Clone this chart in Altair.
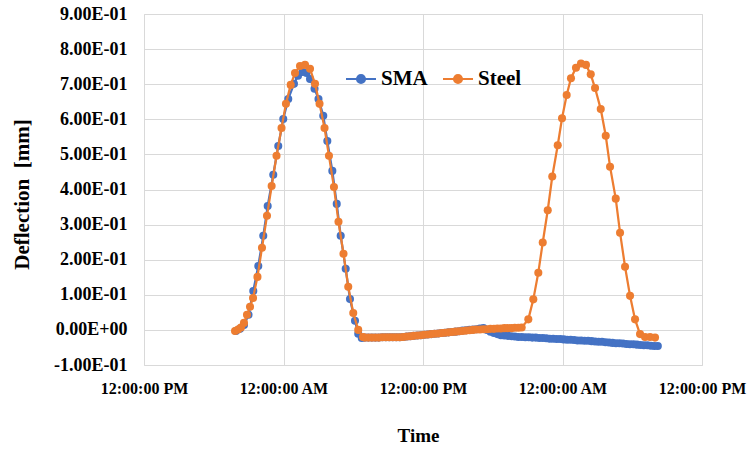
import altair as alt
import pandas as pd

# Time in hours since the first "12:00:00 PM" tick
sma_hours = [7.91, 8.26, 8.60, 8.99, 9.40, 9.83, 10.26, 10.64, 11.12, 11.55, 11.98, 12.41, 12.90, 13.25,
             13.63, 13.98, 14.28, 14.67, 15.01, 15.42, 15.77, 16.20, 16.58, 16.92, 17.35, 17.72, 18.15,
             18.43, 18.73,
             19.0, 19.3, 19.6, 19.9, 20.2, 20.5, 20.8, 21.1, 21.4, 21.7, 22.0, 22.3, 22.6, 22.9, 23.2,
             23.5, 23.8, 24.1, 24.4, 24.7, 25.0, 25.3, 25.6, 25.9, 26.2, 26.5, 26.8, 27.1, 27.4, 27.7,
             28.0, 28.3, 28.6, 28.9, 29.2, 29.5, 29.8, 30.1, 30.4, 30.7, 31.0, 31.3, 31.6, 31.9, 32.2,
             32.5, 32.8, 33.1, 33.4, 33.7, 34.0, 34.3, 34.6, 34.9, 35.2, 35.5, 35.8, 36.1, 36.4, 36.7,
             37.0, 37.3, 37.6, 37.9, 38.2, 38.5, 38.8, 39.1, 39.4, 39.7, 40.0, 40.3, 40.6, 40.9, 41.2,
             41.5, 41.8, 42.1, 42.4, 42.7, 43.0, 43.3, 43.6, 43.9, 44.2]
sma_values = [-0.003, 0.003, 0.014, 0.043, 0.111, 0.182, 0.268, 0.353, 0.442, 0.524, 0.601, 0.658, 0.701,
              0.724, 0.735, 0.732, 0.715, 0.687, 0.658, 0.610, 0.538, 0.453, 0.359, 0.268, 0.174, 0.088,
              0.026, -0.011, -0.023,
              -0.022, -0.022, -0.022, -0.022, -0.022, -0.021, -0.021, -0.021, -0.021, -0.021, -0.021,
              -0.020, -0.019, -0.018, -0.017, -0.016, -0.015, -0.014, -0.013, -0.012, -0.011, -0.010,
              -0.009, -0.008, -0.007, -0.006, -0.005, -0.004, -0.002, -0.001, 0.000, 0.001, 0.002,
              0.004, 0.005, 0.000, -0.005, -0.009, -0.012, -0.015, -0.016, -0.017, -0.018, -0.019,
              -0.020,
              -0.020, -0.021, -0.021, -0.022, -0.022, -0.023, -0.023, -0.024, -0.025, -0.025, -0.026,
              -0.026, -0.027, -0.028, -0.028, -0.029, -0.030, -0.030, -0.031, -0.031, -0.032, -0.033,
              -0.034, -0.034, -0.035, -0.036, -0.037, -0.038, -0.038, -0.039, -0.040, -0.041, -0.041,
              -0.042, -0.043, -0.044, -0.044, -0.045, -0.046, -0.046]

steel_hours = [7.83, 8.09, 8.34, 8.60, 8.86, 9.12, 9.38, 9.76, 10.15, 10.58, 10.98, 11.40, 11.83, 12.21,
               12.62, 12.99, 13.42, 13.85, 14.28, 14.71, 15.10, 15.53, 15.91, 16.34, 16.73, 17.16,
               17.57, 18.00, 18.43, 18.84,
               19.0, 19.3, 19.6, 19.9, 20.2, 20.5, 20.8, 21.1, 21.4, 21.7, 22.0, 22.3, 22.6, 22.9, 23.2,
               23.5, 23.8, 24.1, 24.4, 24.7, 25.0, 25.3, 25.6, 25.9, 26.2, 26.5, 26.8, 27.1, 27.4, 27.7,
               28.0, 28.3, 28.6, 28.9, 29.2, 29.5, 29.8, 30.1, 30.4, 30.7, 31.0, 31.3, 31.6, 31.9, 32.2,
               32.49, 33.06, 33.49, 33.92, 34.30, 34.73, 35.12, 35.59, 35.96, 36.36, 36.73, 37.16,
               37.59, 38.02, 38.43, 38.80, 39.29, 39.72, 40.09, 40.58, 40.95, 41.38, 41.81, 42.24,
               42.67, 43.10, 43.53, 43.96]
steel_values = [-0.003, 0.001, 0.007, 0.020, 0.043, 0.066, 0.091, 0.151, 0.234, 0.325, 0.410, 0.496,
                0.575, 0.644, 0.698, 0.732, 0.752, 0.755, 0.744, 0.701, 0.644, 0.575, 0.496, 0.407,
                0.308, 0.217, 0.123, 0.048, 0.000, -0.020,
                -0.022, -0.022, -0.022, -0.022, -0.022, -0.021, -0.021, -0.021, -0.021, -0.021, -0.021,
                -0.020, -0.019, -0.018, -0.017, -0.016, -0.015, -0.014, -0.013, -0.012, -0.011, -0.010,
                -0.009, -0.008, -0.007, -0.006, -0.005, -0.004, -0.003, -0.002, -0.001, 0.000, 0.001,
                0.001, 0.002, 0.002, 0.003, 0.003, 0.004, 0.004, 0.005, 0.005, 0.005, 0.006, 0.006,
                0.007, 0.030, 0.087, 0.163, 0.249, 0.341, 0.437, 0.526, 0.603, 0.669, 0.717, 0.747,
                0.759, 0.755, 0.728, 0.689, 0.629, 0.553, 0.465, 0.374, 0.277, 0.180, 0.097, 0.030,
                -0.012, -0.020, -0.020, -0.022]

series_names = ["SMA", "Steel"]
series_colors = ["#4472C4", "#ED7D31"]
x_ticks = [0, 12, 24, 36, 48]
y_ticks = [-0.1, 0.0, 0.1, 0.2, 0.3, 0.4, 0.5, 0.6, 0.7, 0.8, 0.9]
y_tick_labels = ["-1.00E-01", "0.00E+00", "1.00E-01", "2.00E-01", "3.00E-01", "4.00E-01",
                 "5.00E-01", "6.00E-01", "7.00E-01", "8.00E-01", "9.00E-01"]

df = pd.concat([
    pd.DataFrame({"t": sma_hours, "v": sma_values, "s": "SMA", "o": range(len(sma_hours))}),
    pd.DataFrame({"t": steel_hours, "v": steel_values, "s": "Steel", "o": range(len(steel_hours))}),
])

FONT = "Liberation Serif"
ylab_expr = "[" + ",".join("'%s'" % l for l in y_tick_labels) + "][round(datum.value*10)+1]"

common_axis = dict(labelFont=FONT, labelFontWeight="bold", labelColor="#000000",
                   titleFont=FONT, titleFontWeight="bold", titleColor="#000000",
                   grid=True, gridColor="#D9D9D9", gridWidth=1, domain=False, ticks=False)

x_enc = alt.X("t:Q", scale=alt.Scale(domain=[0, 48], nice=False),
              axis=alt.Axis(values=x_ticks, title="Time", labelFlush=False,
                            labelExpr="datum.value % 24 == 0 ? '12:00:00 PM' : '12:00:00 AM'",
                            labelFontSize=16, labelPadding=15, titleFontSize=19,
                            titleX=274, titleY=70, titleBaseline="middle", titleAlign="center",
                            **common_axis))
y_enc = alt.Y("v:Q", scale=alt.Scale(domain=[-0.1, 0.9], nice=False, zero=False),
              axis=alt.Axis(values=y_ticks, title="Deflection\u00a0\u00a0[mm]", labelExpr=ylab_expr,
                            labelFontSize=18, labelPadding=17, titleFontSize=21,
                            titleX=-122, titleY=180, titleAngle=270, titleBaseline="middle",
                            titleAlign="center", **common_axis))
color_enc = alt.Color("s:N", scale=alt.Scale(domain=series_names, range=series_colors),
                      legend=alt.Legend(title=None, orient="none", direction="horizontal",
                                        legendX=201, legendY=49,
                                        symbolType="M-1,0H1M0.27,0A0.27,0.27,0,1,1,-0.27,0A0.27,0.27,0,1,1,0.27,0Z",
                                        symbolSize=900, symbolStrokeWidth=2, labelFontSize=21,
                                        labelFont=FONT, labelFontWeight="bold", labelColor="#000000",
                                        labelOffset=4, columnPadding=11, padding=0))

def layer_for(name):
    return alt.Chart(df).transform_filter(alt.datum.s == name).mark_line(
        strokeWidth=2.25,
        point=alt.OverlayMarkDef(filled=True, size=65, opacity=1)
    ).encode(x=x_enc, y=y_enc, color=color_enc, order="o:Q")

chart = alt.layer(layer_for("SMA"), layer_for("Steel")).properties(
    width=558, height=351,
    autosize=alt.AutoSizeParams(type="none"),
    padding={"left": 144, "top": 14, "right": 51, "bottom": 85},
).configure_view(stroke=None).configure(background="white")

chart.save("out.html", embed_options={"renderer": "svg", "actions": False})
